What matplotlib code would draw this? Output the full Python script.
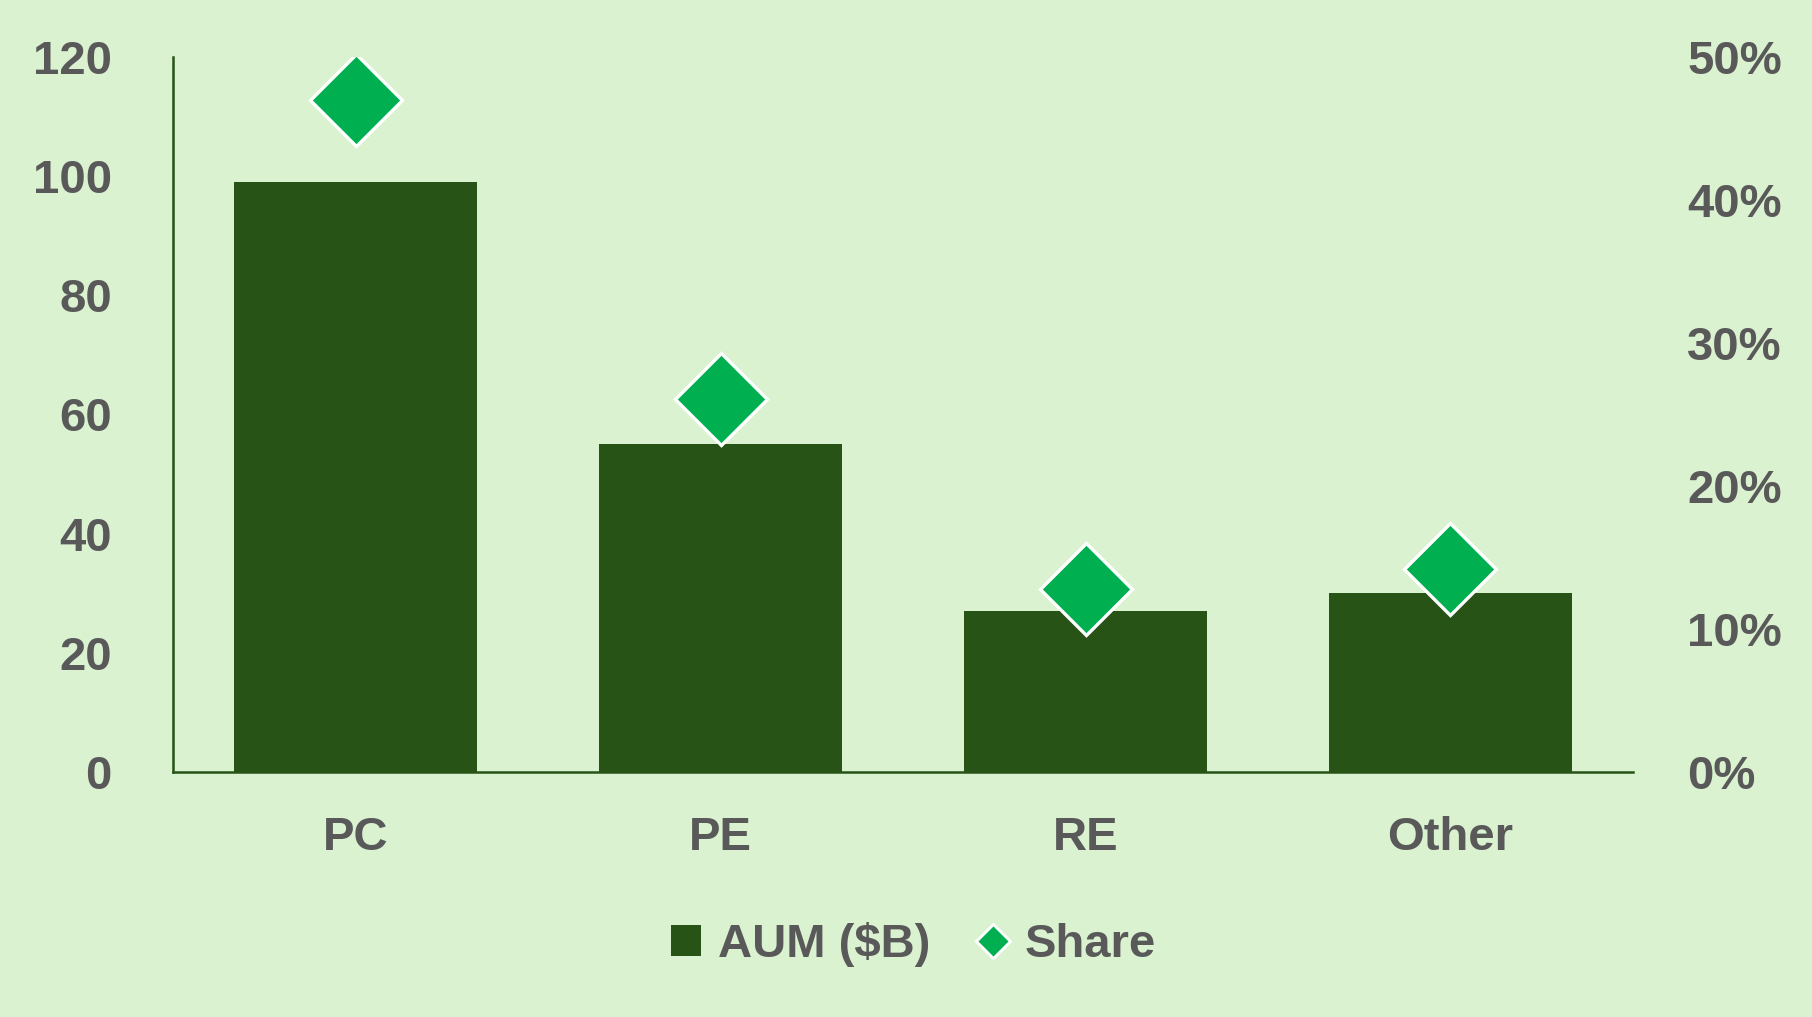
import matplotlib
matplotlib.use("Agg")
import matplotlib.pyplot as plt
from matplotlib.patches import Patch
from matplotlib.lines import Line2D
from matplotlib.ticker import FuncFormatter

categories = ["PC", "PE", "RE", "Other"]
aum = [99, 55, 27, 30]
share = [0.470, 0.261, 0.128, 0.142]
left_ticks = [0, 20, 40, 60, 80, 100, 120]
right_ticks = [0.0, 0.1, 0.2, 0.3, 0.4, 0.5]

BG = "#DAF2D0"
BAR = "#275317"
DIAM = "#00B050"
TXT = "#595959"
FONT = ["Liberation Sans", "DejaVu Sans"]
FS = 34

plt.rcParams["font.family"] = FONT
plt.rcParams["font.weight"] = "bold"

fig = plt.figure(figsize=(18.12, 10.17), dpi=100, facecolor=BG)
ax = fig.add_axes([0.0955, 0.2409, 0.8057, 0.7031])
ax.set_facecolor(BG)

x = list(range(len(categories)))
ax.bar(x, aum, width=0.667, color=BAR, zorder=2)
ax.set_xlim(-0.5, len(categories) - 0.5)
ax.set_ylim(0, 120)
ax.set_yticks(left_ticks)
ax.set_xticks(x)
ax.set_xticklabels(categories)

for s in ["top", "right"]:
    ax.spines[s].set_visible(False)
for s in ["left", "bottom"]:
    ax.spines[s].set_color(BAR)
    ax.spines[s].set_linewidth(1.8)

ax.tick_params(axis="y", length=0, pad=44, labelsize=FS, labelcolor=TXT)
ax.tick_params(axis="x", length=0, pad=32, labelsize=FS, labelcolor=TXT)

ax2 = ax.twinx()
ax2.set_ylim(0, 0.5)
ax2.set_yticks(right_ticks)
ax2.yaxis.set_major_formatter(FuncFormatter(lambda v, p: f"{v*100:.0f}%"))
for s in ["top", "right", "left", "bottom"]:
    ax2.spines[s].set_visible(False)
ax2.tick_params(axis="y", length=0, pad=39, labelsize=FS, labelcolor=TXT)
ax2.plot(x, share, linestyle="none", marker="D", markersize=46.5,
         markerfacecolor=DIAM, markeredgecolor="white", markeredgewidth=2.4, zorder=3)

for lab in ax.get_xticklabels() + ax.get_yticklabels() + ax2.get_yticklabels():
    lab.set_fontweight("bold")

handles = [
    Patch(facecolor=BAR, edgecolor="none", label="AUM ($B)"),
    Line2D([], [], linestyle="none", marker="D", markersize=17.5,
           markerfacecolor=DIAM, markeredgecolor="white", markeredgewidth=2, label="Share"),
]
leg = fig.legend(handles=handles, loc="center", bbox_to_anchor=(0.504, 0.071), ncol=2,
                 frameon=False, handlelength=0.64, handleheight=0.62, handletextpad=0.35,
                 columnspacing=1.0, prop={"family": FONT, "weight": "bold", "size": FS})
for t in leg.get_texts():
    t.set_color(TXT)

fig.savefig("out.png", dpi=100, facecolor=BG)
